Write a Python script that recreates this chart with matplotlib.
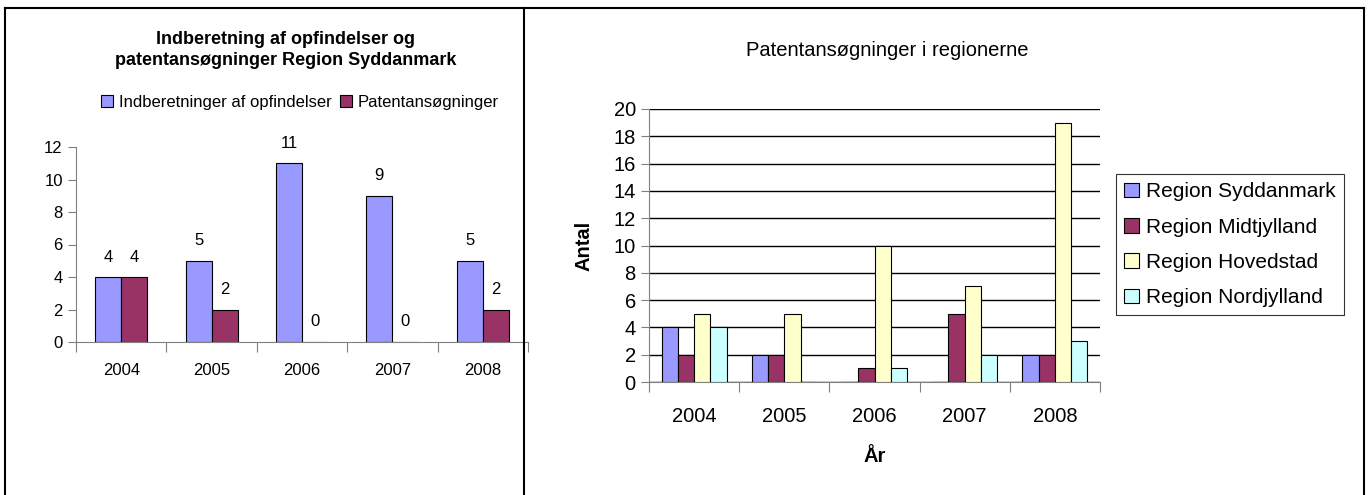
import numpy as np
import matplotlib
matplotlib.use("Agg")
import matplotlib.pyplot as plt
from matplotlib.lines import Line2D

W, H = 1369, 495

YEARS = ["2004", "2005", "2006", "2007", "2008"]

# left chart: Region Syddanmark
INDBERETNINGER = [4, 5, 11, 9, 5]
PATENTER_SYD = [4, 2, 0, 0, 2]
LEFT_SERIES = ["Indberetninger af opfindelser", "Patentansøgninger"]

# right chart: all regions
REGIONS = ["Region Syddanmark", "Region Midtjylland", "Region Hovedstad", "Region Nordjylland"]
SYDDANMARK = [4, 2, 0, 0, 2]
MIDTJYLLAND = [2, 2, 1, 5, 2]
HOVEDSTAD = [5, 5, 10, 7, 19]
NORDJYLLAND = [4, 0, 1, 2, 3]

COLORS = ["#9999FF", "#993366", "#FFFFCC", "#CCFFFF"]

plt.rcParams["font.family"] = ["Liberation Sans", "DejaVu Sans"]

LFS = 12      # left panel font size
RFS = 14.5    # right panel font size


def px_axes(fig, x0, y_top, x1, y_bottom):
    return fig.add_axes([x0 / W, 1 - y_bottom / H, (x1 - x0) / W, (y_bottom - y_top) / H])


def category_axis(ax, n, fontsize):
    ax.set_xlim(0, n)
    ax.set_xticks(np.arange(n + 1))
    ax.set_xticklabels([])
    ax.set_xticks(np.arange(n) + 0.5, minor=True)
    ax.set_xticklabels(YEARS, minor=True, fontsize=fontsize)
    ax.tick_params(axis="x", which="major", direction="out", length=7, color="#808080")
    ax.tick_params(axis="x", which="minor", length=0, pad=12)
    ax.tick_params(axis="y", direction="out", length=6, color="#808080")
    for s in ["top", "right"]:
        ax.spines[s].set_visible(False)
    for s in ["left", "bottom"]:
        ax.spines[s].set_color("#808080")


fig = plt.figure(figsize=(W / 100, H / 100), dpi=100)

# ---------- left panel ----------
ax1 = px_axes(fig, 76, 147, 528, 342)
x = np.arange(len(YEARS)) + 0.5
bw = 0.287
b1 = ax1.bar(x - bw / 2, INDBERETNINGER, bw, color=COLORS[0], edgecolor="black", lw=0.8,
             label=LEFT_SERIES[0])
b2 = ax1.bar(x + bw / 2, PATENTER_SYD, bw, color=COLORS[1], edgecolor="black", lw=0.8,
             label=LEFT_SERIES[1])
ax1.bar_label(b1, padding=9, fontsize=LFS)
ax1.bar_label(b2, padding=9, fontsize=LFS)
ax1.set_ylim(0, 12)
ax1.set_yticks(range(0, 13, 2))
ax1.tick_params(axis="y", labelsize=LFS)
category_axis(ax1, len(YEARS), LFS)
ax1.tick_params(axis="x", which="minor", pad=15)
ax1.spines["bottom"].set_clip_on(False)

fig.text(286 / W, 1 - 50 / H, "Indberetning af opfindelser og\npatentansøgninger Region Syddanmark",
         ha="center", va="center", fontsize=13, fontweight="bold", linespacing=1.3)
fig.legend(handles=[b1, b2], labels=LEFT_SERIES, loc="center", bbox_to_anchor=(300 / W, 1 - 102 / H),
           ncol=2, frameon=False, fontsize=LFS, handlelength=0.7, handleheight=0.7,
           handletextpad=0.35, columnspacing=0.5)

# ---------- right panel ----------
ax2 = px_axes(fig, 649, 109, 1100, 382)
series = [SYDDANMARK, MIDTJYLLAND, HOVEDSTAD, NORDJYLLAND]
bw2 = 0.18
handles = []
for i, vals in enumerate(series):
    h = ax2.bar(x + (i - 1.5) * bw2, vals, bw2, color=COLORS[i], edgecolor="black", lw=0.8,
                label=REGIONS[i], zorder=3)
    handles.append(h)
ax2.set_ylim(0, 20)
ax2.set_yticks(range(0, 21, 2))
ax2.tick_params(axis="y", labelsize=RFS)
ax2.yaxis.grid(True, color="black", lw=1, zorder=0)
ax2.set_axisbelow(True)
category_axis(ax2, len(YEARS), RFS)
ax2.tick_params(axis="x", which="minor", pad=18)

ax2.set_ylabel("Antal", fontsize=RFS, fontweight="bold", labelpad=14)
ax2.set_xlabel("År", fontsize=RFS, fontweight="bold", labelpad=15)
fig.text(887 / W, 1 - 50 / H, "Patentansøgninger i regionerne", ha="center", va="center", fontsize=RFS)

leg = fig.legend(handles=handles, labels=REGIONS, loc="upper left",
                 bbox_to_anchor=(1116 / W, 1 - 174 / H), fontsize=15, frameon=True, fancybox=False,
                 edgecolor="black", handlelength=0.7, handleheight=0.7, handletextpad=0.35,
                 labelspacing=0.78, borderpad=0.4, borderaxespad=0)
leg.get_frame().set_linewidth(0.8)

# ---------- panel borders ----------
lw = 1.5
fig.add_artist(Line2D([5.5 / W, 1363.5 / W], [1 - 8 / H, 1 - 8 / H], transform=fig.transFigure,
                      color="black", lw=lw))
for xb in [5.5, 523.5, 1363.5]:
    fig.add_artist(Line2D([xb / W, xb / W], [0, 1 - 8 / H], transform=fig.transFigure,
                          color="black", lw=lw))

fig.savefig("out.png", dpi=100)
